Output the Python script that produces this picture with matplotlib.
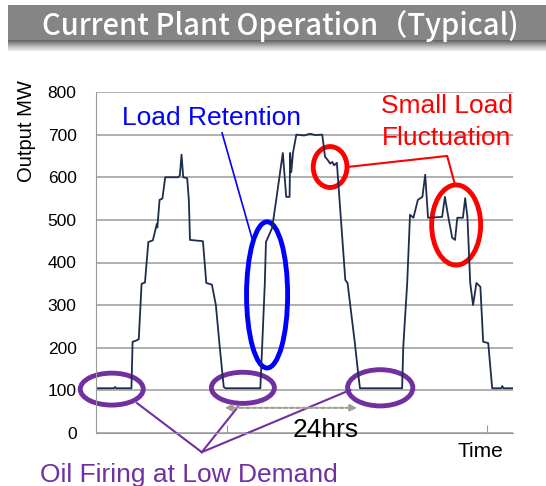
import numpy as np
import matplotlib
matplotlib.use("Agg")
import matplotlib.pyplot as plt
from matplotlib.patches import Ellipse, Rectangle

# Output (MW) over ~3 days, hours
hours = [0, 3.2, 3.4, 3.6, 6.3, 6.5, 7.0, 7.6, 8.1, 8.7, 9.3, 10.1, 10.8, 10.9, 11.3, 11.8,
         12.3, 14.6, 14.9, 15.2, 15.5, 16.2, 16.5, 16.7, 19.0, 19.6, 20.6, 21.3, 22.0, 22.7, 23.0,
         29.2, 29.5, 30.0, 30.2, 31.3, 32.1, 32.8, 33.2, 33.8, 34.4, 34.5, 34.7, 35.0, 35.6, 37.0,
         38.0, 39.0, 40.2, 40.7, 41.2, 41.6, 42.0, 42.3, 42.8, 44.3, 44.7, 45.5, 46.0, 46.5, 46.9,
         54.4, 54.6, 55.3, 55.8, 56.4, 57.2, 58.0, 58.5, 59.0, 61.5, 62.0, 62.6, 63.3, 63.8, 64.2,
         65.2, 65.6, 66.0, 66.5, 67.0, 67.6, 68.3, 68.8, 69.7, 70.4, 72.0, 72.2, 72.4, 74.1]
output_mw = [105, 105, 108, 105, 105, 214, 216, 220, 350, 353, 448, 452, 490, 482, 547, 550,
             600, 600, 604, 653, 600, 598, 547, 453, 450, 352, 348, 300, 200, 108, 105,
             105, 195, 352, 448, 481, 554, 620, 657, 554, 554, 657, 612, 657, 700, 698,
             702, 699, 700, 648, 640, 632, 636, 628, 634, 359, 352, 265, 211, 150, 105,
             105, 202, 352, 512, 505, 547, 554, 606, 505, 507, 554, 507, 458, 453, 505,
             505, 551, 507, 352, 300, 352, 343, 214, 211, 105, 105, 110, 105, 105]

y_ticks = [0, 100, 200, 300, 400, 500, 600, 700, 800]
x_marks = [23.3, 69.5]

W, H = 546, 486
fig = plt.figure(figsize=(W / 100, H / 100), dpi=100)
fig.patch.set_facecolor('white')

def fx(px):
    return px / W

def fy(py):
    return 1 - py / H

# title bar
fig.patches.append(Rectangle((fx(8), fy(40)), 1 - fx(8), fy(5) - fy(40),
                             transform=fig.transFigure, facecolor='#858585', edgecolor='none'))
gax = fig.add_axes([fx(8), fy(51), 1 - fx(8), fy(40) - fy(51)])
grad = np.linspace(0, 1, 20).reshape(-1, 1)
gax.imshow(grad, aspect='auto', cmap='Greys_r', vmin=-0.6, vmax=1.3, extent=[0, 1, 0, 1])
gax.axis('off')
fig.text(fx(280), fy(35), 'Current Plant Operation（Typical)', color='white',
         family=['Noto Sans CJK JP', 'DejaVu Sans'], fontweight='medium',
         fontsize=21, ha='center', va='baseline')

ax = fig.add_axes([fx(96), fy(433), fx(513) - fx(96), fy(92) - fy(433)])
ax.plot(hours, output_mw, color='#1f2d4d', lw=1.3)
ax.set_xlim(0, 74.1)
ax.set_ylim(0, 800)
ax.set_yticks(y_ticks)
ax.set_yticklabels([str(v) for v in y_ticks], family='Liberation Sans', fontsize=12.5)
ax.tick_params(axis='y', length=0, pad=14)
ax.set_xticks(x_marks)
ax.set_xticklabels([])
ax.tick_params(axis='x', direction='in', length=6, color='#999999')
ax.grid(axis='y', color='#9a9a9a', lw=1.1)
ax.set_axisbelow(True)
for s in ['top', 'right']:
    ax.spines[s].set_visible(False)
ax.spines['left'].set_color('#9a9a9a')
ax.spines['bottom'].set_color('#9a9a9a')

fig.text(fx(27), fy(131), 'Output MW', rotation=90, family='Liberation Sans',
         fontsize=14.5, ha='center', va='center')
fig.text(fx(457), fy(457), 'Time', family='Liberation Sans', fontsize=15, ha='left', va='baseline')

# 24 hrs arrow
ax.annotate('', xy=(46.9, 59), xytext=(22.4, 59), annotation_clip=False,
            arrowprops=dict(arrowstyle='<|-|>', color='#a0a090', lw=1.5, ls=(0, (2, 1)),
                            mutation_scale=10))
fig.text(fx(293), fy(437), '24hrs', family='Liberation Sans', fontsize=19, ha='left', va='baseline')

# load retention
ax.add_patch(Ellipse((30.4, 324), 7.3, 343, fill=False, edgecolor='#0000ff', lw=3.5, clip_on=False))
ax.plot([22.4, 27.7], [704, 458], color='#0000ff', lw=1.2, clip_on=False)
fig.text(fx(211), fy(125), 'Load Retention', color='#0000ff', family='Liberation Sans',
         fontsize=19, ha='center', va='baseline')

# small load fluctuation
red = '#ff0000'
ax.add_patch(Ellipse((41.6, 624), 6.0, 96, fill=False, edgecolor=red, lw=3.5, clip_on=False))
ax.add_patch(Ellipse((64.0, 488), 8.7, 188, fill=False, edgecolor=red, lw=3.5, clip_on=False))
ax.plot([44.6, 62.4, 63.8], [624, 650, 582], color=red, lw=1.5, clip_on=False)
fig.text(fx(447), fy(113), 'Small Load', color=red, family='Liberation Sans',
         fontsize=19, ha='center', va='baseline')
fig.text(fx(447), fy(145), 'Fluctuation', color=red, family='Liberation Sans',
         fontsize=19, ha='center', va='baseline')

# oil firing
purple = '#7030a0'
for cx, cy, w, h in [(2.8, 103, 11.2, 75), (26.1, 106, 11.2, 73), (50.5, 106, 11.6, 85)]:
    ax.add_patch(Ellipse((cx, cy), w, h, fill=False, edgecolor=purple, lw=3.5, clip_on=False))
for sx, sy in [(7.3, 70), (25.2, 61), (45.2, 101)]:
    ax.plot([sx, 18.8], [sy, -45], color=purple, lw=1.5, clip_on=False)
fig.text(fx(40), fy(482), 'Oil Firing at Low Demand', color=purple, family='Liberation Sans',
         fontsize=19, ha='left', va='baseline')

plt.savefig('out.png', dpi=100)
